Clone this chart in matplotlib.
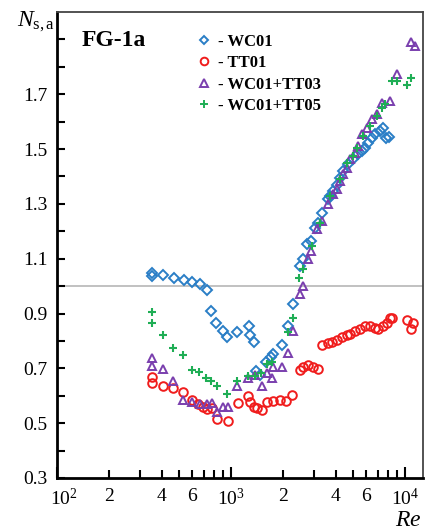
import matplotlib
matplotlib.use("Agg")
import matplotlib.pyplot as plt
from matplotlib.ticker import FixedLocator, FuncFormatter, NullFormatter
from matplotlib.lines import Line2D
import matplotlib.transforms as mtransforms

# ---------------- data ----------------
wc01_re = [350, 350, 405, 470, 537, 597, 663, 728, 767, 820, 899, 948, 1083, 1269, 1286, 1356,
           1392, 1468, 1589, 1698, 1743, 1964, 2126, 2272, 2492, 2595, 2736, 2884, 3040, 3162, 3333,
           3608, 3704, 3853, 4064, 4227, 4404, 4703, 5023, 5370, 5660, 5890, 6124, 6456, 6730, 7178,
           7477, 7780, 8091]
wc01_n = [1.049, 1.038, 1.042, 1.031, 1.024, 1.016, 1.009, 0.987, 0.911, 0.864, 0.835, 0.816, 0.831,
          0.853, 0.820, 0.795, 0.689, 0.675, 0.722, 0.740, 0.751, 0.787, 0.853, 0.933, 1.075, 1.100,
          1.155, 1.165, 1.213, 1.231, 1.267, 1.318, 1.329, 1.347, 1.369, 1.395, 1.420, 1.445, 1.464,
          1.482, 1.493, 1.504, 1.522, 1.540, 1.555, 1.565, 1.576, 1.540, 1.544]

tt01_re = [350, 350, 405, 464, 530, 597, 646, 690, 728, 778, 831, 961, 1097, 1252, 1286, 1356, 1411,
           1507, 1610, 1743, 1914, 2070, 2244, 2492, 2595, 2773, 2961, 3162, 3333, 3608, 3802, 4064,
           4345, 4642, 4827, 5160, 5513, 5890, 6290, 6730, 6998, 7477, 7880, 8200, 8420, 10260, 11110,
           10820]
tt01_n = [0.667, 0.645, 0.635, 0.627, 0.613, 0.584, 0.569, 0.558, 0.551, 0.555, 0.515, 0.507, 0.573,
          0.598, 0.576, 0.558, 0.555, 0.547, 0.576, 0.580, 0.584, 0.580, 0.602, 0.693, 0.704, 0.711,
          0.704, 0.696, 0.784, 0.791, 0.795, 0.802, 0.813, 0.820, 0.827, 0.838, 0.845, 0.856, 0.856,
          0.849, 0.845, 0.856, 0.864, 0.882, 0.882, 0.875, 0.864, 0.845]

tt03_re = [350, 350, 405, 464, 530, 597, 663, 728, 778, 831, 899, 961, 1083, 1252, 1374, 1507, 1610,
           1720, 1743, 1964, 2126, 2272, 2492, 2595, 2773, 2884, 3120, 3333, 3608, 3853, 4064, 4227,
           4404, 4642, 4827, 5160, 5370, 5660, 6050, 6456, 6904, 7379, 8200, 8990, 10820, 11410]
tt03_n = [0.736, 0.707, 0.696, 0.653, 0.584, 0.576, 0.569, 0.569, 0.573, 0.540, 0.558, 0.558, 0.635,
          0.664, 0.675, 0.635, 0.682, 0.664, 0.704, 0.704, 0.755, 0.838, 0.973, 1.002, 1.100, 1.129,
          1.209, 1.238, 1.300, 1.336, 1.355, 1.384, 1.409, 1.431, 1.464, 1.485, 1.511, 1.555, 1.576,
          1.609, 1.627, 1.667, 1.675, 1.773, 1.889, 1.875]

tt05_re = [350, 350, 405, 464, 530, 597, 655, 718, 767, 831, 948, 1083, 1252, 1374, 1487, 1610, 1720,
           2126, 2272, 2460, 2595, 2922, 3246, 3704, 4227, 4642, 5023, 5300, 5737, 6290, 6904, 7379,
           7674, 8420, 8990, 10260, 10820]
tt05_n = [0.904, 0.867, 0.820, 0.773, 0.747, 0.693, 0.685, 0.664, 0.653, 0.635, 0.605, 0.653, 0.671,
          0.671, 0.682, 0.715, 0.725, 0.831, 0.885, 1.031, 1.064, 1.147, 1.231, 1.329, 1.391, 1.449,
          1.475, 1.504, 1.547, 1.584, 1.620, 1.649, 1.664, 1.747, 1.747, 1.733, 1.758]

series_labels = ["- WC01", "- TT01", "- WC01+TT03", "- WC01+TT05"]
y_major = [0.3, 0.5, 0.7, 0.9, 1.1, 1.3, 1.5, 1.7, 1.9]
y_major_labels = ["0.3", "0.5", "0.7", "0.9", "1.1", "1.3", "1.5", "1.7", ""]
y_minor = [0.4, 0.6, 0.8, 1.0, 1.2, 1.4, 1.6, 1.8]
ref_line = 1.0

# ---------------- style ----------------
plt.rcParams['font.family'] = ['Liberation Serif', 'DejaVu Serif']
plt.rcParams['mathtext.fontset'] = 'custom'
plt.rcParams['mathtext.rm'] = 'Liberation Serif'
plt.rcParams['mathtext.it'] = 'Liberation Serif:italic'
plt.rcParams['mathtext.bf'] = 'Liberation Serif:bold'

c_blue = '#2a7ec6'
c_red = '#f01c1c'
c_purple = '#7a3fae'
c_green = '#1fae55'

fig = plt.figure(figsize=(4.27, 5.32), dpi=100)
ax = fig.add_axes([57 / 427, 54 / 532, 366 / 427, 466 / 532])

ax.axhline(ref_line, color='#b0b0b0', lw=1.1, zorder=1)

mew = 1.4
ax.plot(wc01_re, wc01_n, ls='none', marker='D', ms=4.8, mfc='none', mec=c_blue, mew=mew, zorder=3)
ax.plot(tt01_re, tt01_n, ls='none', marker='o', ms=6.2, mfc='none', mec=c_red, mew=mew, zorder=3)
ax.plot(tt03_re, tt03_n, ls='none', marker='^', ms=6.2, mfc='none', mec=c_purple, mew=mew, zorder=3)
ax.plot(tt05_re, tt05_n, ls='none', marker='+', ms=6.0, mfc='none', mec=c_green, mew=1.5, zorder=4)

ax.set_xscale('log')
ax.set_xlim(100, 12700)
ax.set_ylim(0.3, 2.0)

# x ticks
ax.xaxis.set_major_locator(FixedLocator([100, 1000, 10000]))
ax.xaxis.set_major_formatter(FuncFormatter(lambda v, p: {100: '$10^{2}$', 1000: '$10^{3}$', 10000: '$10^{4}$'}.get(int(round(v)), '')))
minors = [m * d for d in (100, 1000) for m in range(2, 10)]
ax.xaxis.set_minor_locator(FixedLocator(minors))
lab_min = {200: '2', 400: '4', 600: '6', 2000: '2', 4000: '4', 6000: '6'}
ax.xaxis.set_minor_formatter(FuncFormatter(lambda v, p: lab_min.get(int(round(v)), '')))

# y ticks
ax.set_yticks(y_major)
ax.set_yticklabels(y_major_labels)
ax.yaxis.set_minor_locator(FixedLocator(y_minor))
ax.yaxis.set_minor_formatter(NullFormatter())

ax.tick_params(axis='x', which='major', direction='in', length=8, width=1.5, labelsize=14, pad=7,
               top=False, color='black')
ax.tick_params(axis='x', which='minor', direction='in', length=5.5, width=1.5, labelsize=14, pad=7,
               top=False, color='black')
ax.tick_params(axis='y', which='both', direction='in', length=6, width=1.5, labelsize=14, pad=7,
               right=False, color='black')

for s in ('left', 'bottom'):
    ax.spines[s].set_linewidth(2.0)
    ax.spines[s].set_color('black')
for s in ('top', 'right'):
    ax.spines[s].set_linewidth(1.3)
    ax.spines[s].set_color('#444444')

# shift the first x label slightly right
offset = mtransforms.ScaledTranslation(5 / 72, 0, fig.dpi_scale_trans)
fig.canvas.draw()
for t in ax.xaxis.get_majorticklabels():
    if t.get_text() == '$10^{2}$':
        t.set_transform(t.get_transform() + offset)

# labels
fig.text(17 / 427, 1 - 22 / 532, r'$N_{\mathrm{s,a}}$', fontsize=17, ha='left', va='center')
fig.text(422 / 427, 1 - 520 / 532, r'$Re$', fontsize=17, ha='right', va='center')
ax.text(0.068, 0.938, 'FG-1a', transform=ax.transAxes, fontsize=17, fontweight='bold',
        ha='left', va='center')

handles = [
    Line2D([], [], ls='none', marker='D', ms=4.0, mfc='none', mec=c_blue, mew=1.4),
    Line2D([], [], ls='none', marker='o', ms=5.5, mfc='none', mec=c_red, mew=1.4),
    Line2D([], [], ls='none', marker='^', ms=5.5, mfc='none', mec=c_purple, mew=1.4),
    Line2D([], [], ls='none', marker='+', ms=5.5, mfc='none', mec=c_green, mew=1.4),
]
leg = ax.legend(handles, series_labels, loc='upper left', bbox_to_anchor=(0.378, 0.953),
                frameon=False, borderpad=0, borderaxespad=0, handlelength=1.0,
                handletextpad=0.35, labelspacing=0.32, prop={'size': 12, 'weight': 'bold'})

fig.savefig('out.png', dpi=100)
